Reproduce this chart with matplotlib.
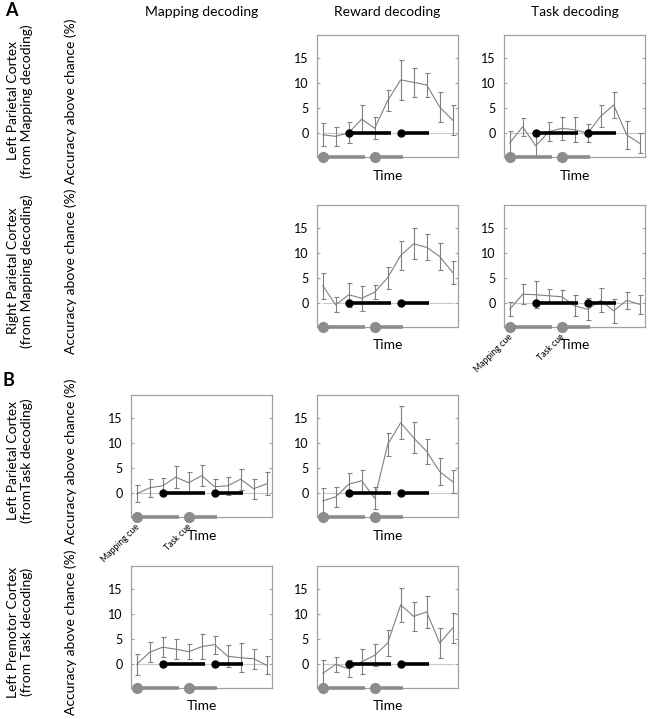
import matplotlib
matplotlib.use('Agg')
import matplotlib.pyplot as plt
import numpy as np

plt.rcParams['font.family'] = ['Lato', 'DejaVu Sans']

# time bins shared by every panel
time_bins = np.arange(1, 12)

# mean accuracy above chance and error, one pair per panel
a1_reward = [-0.3, -0.6, 0.1, 2.8, 1.0, 6.5, 10.6, 10.1, 9.6, 5.2, 2.6]
a1_reward_err = [2.3, 1.9, 2.1, 2.8, 2.2, 2.0, 4.0, 2.8, 2.4, 2.9, 3.0]
a1_task = [-1.9, 1.3, -2.5, 0.3, 1.0, 0.7, 0.0, 3.4, 5.6, -0.3, -2.0]
a1_task_err = [2.3, 1.8, 2.1, 1.9, 2.3, 2.5, 1.8, 2.2, 2.5, 2.8, 2.0]

a2_reward = [3.5, -0.3, 1.7, 1.0, 2.2, 5.1, 9.5, 11.8, 11.1, 9.3, 6.1]
a2_reward_err = [2.6, 1.5, 2.4, 2.5, 1.4, 2.2, 2.9, 3.1, 2.6, 2.6, 2.2]
a2_task = [-1.2, 1.8, 1.7, 1.5, 1.3, -0.5, -1.2, 0.6, -1.5, 0.6, -0.2]
a2_task_err = [1.4, 2.0, 2.7, 1.3, 1.3, 2.1, 2.2, 2.4, 2.4, 1.7, 1.9]

b1_mapping = [-0.1, 1.1, 1.5, 3.2, 2.1, 3.5, 1.3, 1.5, 2.8, 0.9, 1.9]
b1_mapping_err = [1.7, 1.8, 1.6, 2.2, 2.1, 2.1, 1.5, 1.8, 2.1, 2.0, 2.3]
b1_reward = [-1.5, -0.7, 1.8, 2.5, -1.0, 9.7, 14.0, 11.0, 8.3, 4.3, 2.3]
b1_reward_err = [2.6, 2.0, 2.2, 2.2, 2.2, 2.3, 3.3, 3.1, 2.5, 2.7, 2.3]

b2_mapping = [0.0, 2.4, 3.4, 3.0, 2.5, 3.5, 3.9, 1.6, 1.3, 1.1, -0.2]
b2_mapping_err = [2.1, 2.0, 2.0, 2.0, 1.5, 2.5, 1.8, 2.2, 2.9, 2.0, 1.8]
b2_reward = [-1.8, 0.0, -0.9, 0.5, 1.8, 4.2, 11.8, 9.5, 10.4, 4.2, 7.2]
b2_reward_err = [2.6, 1.5, 1.7, 2.5, 2.2, 2.6, 3.4, 2.8, 3.1, 3.0, 2.9]

# epochs: black bars at chance level, grey cue bars on the time axis
epoch_starts = [3, 7]
epoch_ends = [6.25, 9.15]
cue_starts = [1, 5]
cue_ends = [4.25, 7.15]
cue_names = ['Mapping cue', 'Task cue']

col_titles = ['Mapping decoding', 'Reward decoding', 'Task decoding']
row_labels = ['Left Parietal Cortex\n(from Mapping decoding)',
              'Right Parietal Cortex\n(from Mapping decoding)',
              'Left Parietal Cortex\n(fromTask decoding)',
              'Left Premotor Cortex\n(from Task decoding)']

W, H = 648, 719
fig = plt.figure(figsize=(W / 100, H / 100), dpi=100)

col_left = [131, 317, 504]
col_width = 141
row_top = [35, 205, 395, 566]
row_height = 122

line_col = '#808080'


def panel(row, col, vals, errs, cue_text=False):
    ax = fig.add_axes([col_left[col] / W, 1 - (row_top[row] + row_height) / H,
                       col_width / W, row_height / H])
    ylo = -4.7
    ax.set_xlim(0.56, 11.41)
    ax.set_ylim(ylo, 19.5)
    ax.plot([1, 11], [0, 0], color='#c8c8c8', lw=0.8, zorder=1)
    for s, e in zip(epoch_starts, epoch_ends):
        ax.plot([s, e], [0, 0], color='black', lw=2.6, zorder=4,
                solid_capstyle='butt')
        ax.plot([s], [0], 'o', color='black', ms=5, zorder=5)
    for s, e in zip(cue_starts, cue_ends):
        ax.plot([s, e], [ylo, ylo], color='#8c8c8c', lw=2.6, zorder=4,
                clip_on=False, solid_capstyle='butt')
        ax.plot([s], [ylo], 'o', color='#8c8c8c', ms=7, zorder=5, clip_on=False)
    ax.errorbar(time_bins, vals, yerr=errs, color=line_col, lw=0.8,
                elinewidth=0.8, capsize=1.8, capthick=0.8, zorder=3)
    for sp in ax.spines.values():
        sp.set_color('#a0a0a0')
        sp.set_linewidth(0.9)
    ax.set_xticks([])
    ax.set_yticks([0, 5, 10, 15])
    ax.tick_params(axis='y', direction='in', length=2, color='#a0a0a0',
                   labelsize=9, pad=6, right=True)
    ax.set_xlabel('Time', fontsize=10, labelpad=9)
    if cue_text:
        for s, name in zip(cue_starts, cue_names):
            ax.annotate(name, xy=(s, ylo), xytext=(-1, -4),
                        textcoords='offset points', rotation=45,
                        rotation_mode='anchor', ha='right', va='top',
                        fontsize=6.3, annotation_clip=False)
    return ax


panel(0, 1, a1_reward, a1_reward_err)
panel(0, 2, a1_task, a1_task_err)
panel(1, 1, a2_reward, a2_reward_err)
panel(1, 2, a2_task, a2_task_err, cue_text=True)
panel(2, 0, b1_mapping, b1_mapping_err, cue_text=True)
panel(2, 1, b1_reward, b1_reward_err)
panel(3, 0, b2_mapping, b2_mapping_err)
panel(3, 1, b2_reward, b2_reward_err)

# column titles
for c, t in enumerate(col_titles):
    fig.text((col_left[c] + col_width / 2) / W, 1 - 12 / H, t,
             ha='center', va='center', fontsize=10)

# row labels
for r, lab in enumerate(row_labels):
    yc = 1 - (row_top[r] + row_height / 2 + 5) / H
    fig.text(20 / W, yc, lab, rotation=90, ha='center', va='center',
             fontsize=10, multialignment='center', linespacing=1.1)
    fig.text(71 / W, yc, 'Accuracy above chance (%)', rotation=90,
             ha='center', va='center', fontsize=10)

fig.text(5 / W, 1 - 10 / H, 'A', fontsize=13, fontweight='bold',
         ha='left', va='center')
fig.text(3 / W, 1 - 380 / H, 'B', fontsize=13, fontweight='bold',
         ha='left', va='center')

fig.savefig('out.png', dpi=100)
